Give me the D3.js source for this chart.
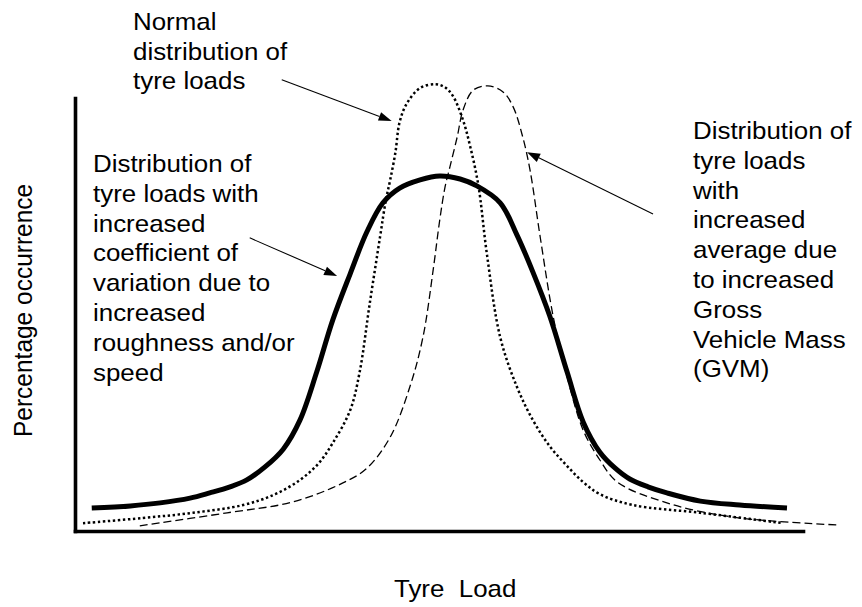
<!DOCTYPE html>
<html>
<head>
<meta charset="utf-8">
<script src="https://cdn.jsdelivr.net/npm/d3@7/dist/d3.min.js"></script>
<style>
  html, body { margin: 0; padding: 0; background: #ffffff; }
  svg { display: block; }
  text { font-family: "Liberation Sans", Arial, sans-serif; fill: #000; }
</style>
</head>
<body>
<svg id="chart" width="862" height="607"></svg>
<script>
// ---------------- DATA (arbitrary units: load 0-100, occurrence 0-100) ----------------
const wideLoad = [2.3, 7.6, 11.7, 15.8, 18.5, 21.3, 23.6, 26.1, 28.6, 30.9, 33.2, 35.4, 37.8, 40.1, 42.3, 44.6, 47.4, 50.1, 52.9, 55.2, 58.4, 60.7, 62.9, 65.2, 67.6, 69.8, 72.1, 74.2, 76.2, 78.7, 81.3, 85.9, 91.3, 97.8];
const wideOccurrence = [5.3, 5.8, 6.5, 7.6, 8.8, 10.2, 11.8, 14.8, 18.9, 25.6, 36.7, 48.7, 59.4, 69.1, 75.8, 79.2, 81.1, 82.0, 81.3, 79.7, 75.8, 68.4, 59.8, 49.7, 36.7, 25.2, 18.2, 14.5, 12.0, 10.2, 8.8, 6.9, 6.0, 5.3];

const normalLoad = [1.1, 9.3, 16.2, 23.1, 27.5, 30.9, 33.4, 35.4, 37.8, 39.1, 40.5, 41.9, 42.7, 43.3, 44.0, 44.6, 45.6, 47.4, 49.5, 50.8, 51.9, 53.3, 54.3, 55.4, 56.6, 58.4, 60.7, 62.9, 65.2, 67.6, 69.8, 72.1, 76.6, 85.9, 97.3];
const normalOccurrence = [1.8, 3.0, 4.2, 6.0, 8.5, 11.8, 15.5, 20.3, 27.9, 36.7, 52.7, 67.9, 76.4, 81.1, 87.3, 94.5, 98.8, 102.3, 103.2, 102.5, 100.5, 94.9, 88.7, 79.9, 63.7, 44.8, 33.3, 25.6, 19.6, 15.0, 11.3, 8.5, 6.0, 4.2, 1.8];

const shiftedLoad = [8.9, 20.9, 29.9, 36.8, 40.1, 43.3, 46.0, 47.8, 49.2, 50.1, 50.8, 51.5, 52.5, 53.3, 54.7, 56.7, 58.8, 60.2, 61.5, 62.5, 63.9, 65.7, 67.6, 69.8, 72.1, 74.5, 81.3, 90.4, 104.7];
const shiftedOccurrence = [1.2, 4.2, 6.7, 11.1, 14.5, 21.7, 33.3, 44.8, 60.3, 71.8, 79.2, 84.1, 91.0, 97.2, 101.8, 102.8, 101.4, 97.9, 91.0, 83.4, 67.9, 49.4, 35.6, 23.3, 16.4, 11.3, 6.5, 3.2, 1.4];

// annotation arrows: [fromLoad, fromOcc, toLoad, toOcc]
const arrowNormal = [28.4, 104.2, 43.5, 94.7];
const arrowShifted = [79.4, 73.2, 62.1, 87.5];
const arrowWide = [24.0, 67.7, 36.0, 58.9];

const labelNormal = ["Normal", "distribution of", "tyre loads"];
const labelWide = ["Distribution of", "tyre loads with", "increased", "coefficient of", "variation due to", "increased", "roughness and/or", "speed"];
const labelShifted = ["Distribution of", "tyre loads", "with", "increased", "average due", "to increased", "Gross", "Vehicle Mass", "(GVM)"];
const xTitle = "Tyre  Load";
const yTitle = "Percentage occurrence";

// ---------------- CHART ----------------
const svg = d3.select("#chart");
const x = d3.scaleLinear().domain([0, 100]).range([75, 803]);
const y = d3.scaleLinear().domain([0, 100]).range([531, 98]);

const line = d3.line()
  .x(d => x(d[0]))
  .y(d => y(d[1]))
  .curve(d3.curveCatmullRom.alpha(0.5));

const zip = (a, b) => a.map((v, i) => [v, b[i]]);

// axes (no ticks)
const xAxis = svg.append("g")
  .attr("transform", `translate(0,${y(0)})`)
  .call(d3.axisBottom(x).tickValues([]).tickSizeOuter(0));
const yAxis = svg.append("g")
  .attr("transform", `translate(${x(0)},0)`)
  .call(d3.axisLeft(y).tickValues([]).tickSizeOuter(0));
[xAxis, yAxis].forEach(g => g.select(".domain")
  .attr("stroke", "#000").attr("stroke-width", 3.6).attr("stroke-linecap", "square"));

// curves
svg.append("path")
  .attr("d", line(zip(normalLoad, normalOccurrence)))
  .attr("fill", "none").attr("stroke", "#000")
  .attr("stroke-width", 2.5).attr("stroke-dasharray", "2.4,2.6");

svg.append("path")
  .attr("d", line(zip(shiftedLoad, shiftedOccurrence)))
  .attr("fill", "none").attr("stroke", "#000")
  .attr("stroke-width", 1.3).attr("stroke-dasharray", "8,4");

svg.append("path")
  .attr("d", line(zip(wideLoad, wideOccurrence)))
  .attr("fill", "none").attr("stroke", "#000")
  .attr("stroke-width", 5).attr("stroke-linejoin", "round");

// arrows
function arrow(a) {
  const x1 = x(a[0]), y1 = y(a[1]), x2 = x(a[2]), y2 = y(a[3]);
  const ang = Math.atan2(y2 - y1, x2 - x1);
  const L = 13, W = 4.5;
  const bx = x2 - L * Math.cos(ang), by = y2 - L * Math.sin(ang);
  svg.append("line")
    .attr("x1", x1).attr("y1", y1).attr("x2", bx).attr("y2", by)
    .attr("stroke", "#000").attr("stroke-width", 1.1);
  const px = -Math.sin(ang) * W, py = Math.cos(ang) * W;
  svg.append("polygon")
    .attr("points", `${x2},${y2} ${bx + px},${by + py} ${bx - px},${by - py}`)
    .attr("fill", "#000");
}
arrow(arrowNormal);
arrow(arrowShifted);
arrow(arrowWide);

// text blocks (slightly widened glyphs as in the original)
const SX = 1.08;
function block(lines, left, baseline, gap, size) {
  const t = svg.append("text")
    .attr("transform", `translate(${left},${baseline}) scale(${SX},1)`)
    .attr("font-size", size);
  lines.forEach((s, i) => {
    t.append("tspan").attr("x", 0).attr("y", i * gap).text(s);
  });
}
block(labelNormal, 133, 30, 29.6, 24);
block(labelWide, 93, 172, 29.8, 24);
block(labelShifted, 693, 139, 29.8, 24);

svg.append("text")
  .attr("transform", `translate(394,597) scale(${SX},1)`)
  .attr("font-size", 24)
  .attr("xml:space", "preserve")
  .style("white-space", "pre")
  .text(xTitle);

svg.append("text")
  .attr("transform", `translate(32,437) scale(${SX},1) rotate(-90)`)
  .attr("font-size", 24.5)
  .text(yTitle);
</script>
</body>
</html>
